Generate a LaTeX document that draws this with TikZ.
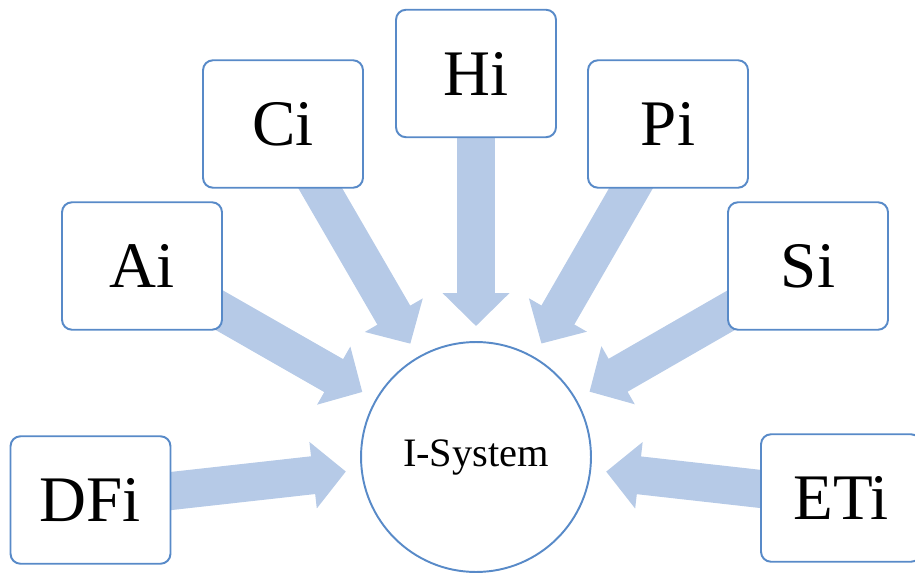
\documentclass[tikz,border=0pt]{standalone}
\usepackage{fontspec}
\setmainfont{Liberation Serif}
\usepackage{xcolor}
\usetikzlibrary{arrows.meta,backgrounds}

\definecolor{edgeblue}{RGB}{88,138,200}
\definecolor{arrowblue}{RGB}{182,202,231}

\begin{document}
\begin{tikzpicture}[x=0.02cm,y=-0.02cm,
    inbox/.style={draw=edgeblue,line width=1.1pt,fill=white,rounded corners=0.2cm,
        minimum width=3.2cm,minimum height=2.55cm,inner sep=0pt,
        font=\fontsize{37}{40}\selectfont},
    hub/.style={draw=edgeblue,line width=1.1pt,fill=white,circle,minimum size=4.6cm,
        inner sep=0pt,font=\fontsize{23}{26}\selectfont},
    bigarrow/.style={arrowblue,line width=0.76cm,shorten >=0.3cm,
        -{Triangle[length=0.66cm,width=1.3cm]}}]
    \useasboundingbox (0,0) rectangle (915,574);

    \node[hub] (sys) at (476,457) {I-System};
    \foreach \nm/\lab/\x/\y in {hi/Hi/476/73.5,ci/Ci/283/124,pi/Pi/668/124,
        ai/Ai/142/266,si/Si/808/266,dfi/DFi/90.5/500,eti/ETi/841/498}{
        \node[inbox] (\nm) at (\x,\y) {\lab};
    }

    \begin{scope}[on background layer]
        \foreach \nm in {hi,ci,pi,ai,si,dfi,eti}{
            \draw[bigarrow] (\nm.center) -- (sys);
        }
    \end{scope}
\end{tikzpicture}
\end{document}
